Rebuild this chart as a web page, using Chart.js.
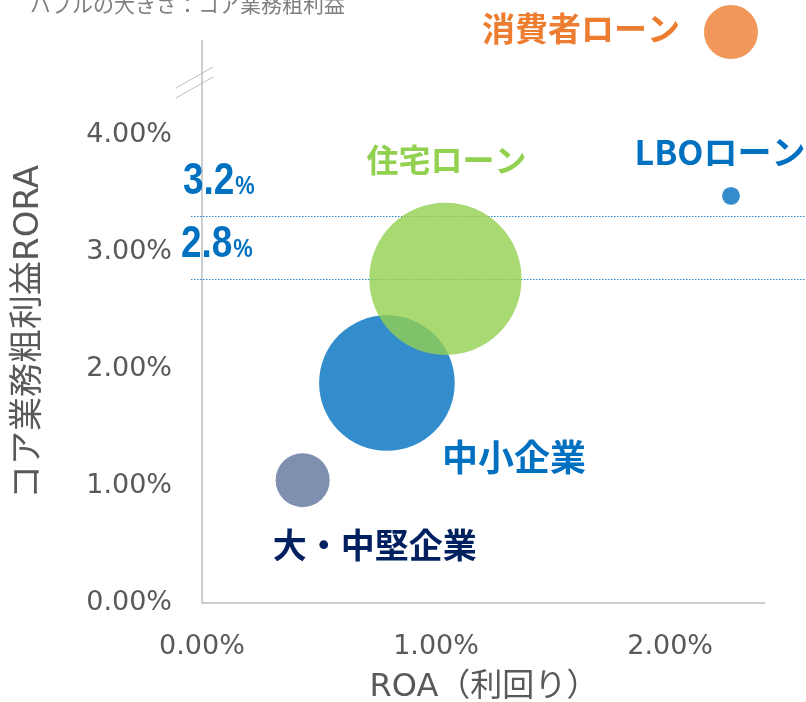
<!DOCTYPE html>
<html>
<head>
<meta charset="utf-8">
<script src="https://cdn.jsdelivr.net/npm/chart.js@4.4.1/dist/chart.umd.min.js"></script>
<style>
  html, body { margin: 0; padding: 0; background: #fff; }
  #wrap { width: 806px; height: 702px; }
</style>
</head>
<body>
<div id="wrap"><canvas id="chart" width="806" height="702"></canvas></div>
<script>
// data
const segments = ['大・中堅企業', '中小企業', '住宅ローン', 'LBOローン', '消費者ローン'];
const roa = [0.43, 0.79, 1.04, 2.26, 2.26];          // x, %
const rora = [1.05, 1.88, 2.77, 3.48, 4.88];         // y, % (消費者ローン sits above the axis break)
const grossProfit = [7.3, 46, 58, 0.8, 7.3];         // bubble size
const xTicks = [0, 1, 2];
const yTicks = [0, 1, 2, 3, 4];
const refValues = [3.31, 2.77];
const refLabels = ['3.2', '2.8'];

// styles
const fills = ['rgba(0,32,96,0.5)', 'rgba(0,112,192,0.8)', 'rgba(146,208,80,0.8)', 'rgba(0,112,192,0.8)', 'rgba(237,125,49,0.8)'];
const labelColors = ['#002060', '#0070C0', '#92D050', '#0070C0', '#ED7D31'];
const labelOffsets = [[72, 65], [127, 74], [1, -119], [-11, -44], [-150, -4]];
const labelSizes = [34, 36, 32, 34, 33];
const GRAY = '#595959';
const AXIS = '#BFBFBF';
const JP = '"Noto Sans CJK JP", sans-serif';
const TICK_FONT = '"DejaVu Sans", "Noto Sans CJK JP", sans-serif';

const points = roa.map((x, i) => ({ x: x, y: rora[i], r: Math.sqrt(grossProfit[i]) * 10 }));

function noPad(s) {
    s.paddingTop = 0;
    s.paddingBottom = 0;
    s.paddingLeft = 0;
    s.paddingRight = 0;
}

const decor = {
    id: 'decor',
    beforeDatasetsDraw(chart) {
        const ctx = chart.ctx;
        const x = chart.scales.x, y = chart.scales.y;
        const x0 = x.getPixelForValue(0), y0 = y.getPixelForValue(0);
        ctx.save();
        // axes
        ctx.strokeStyle = AXIS;
        ctx.lineWidth = 1.5;
        ctx.beginPath();
        ctx.moveTo(x0, 40);
        ctx.lineTo(x0, y0);
        ctx.lineTo(765, y0);
        ctx.stroke();
        // axis break marks
        ctx.lineWidth = 1;
        ctx.beginPath();
        ctx.moveTo(176, 88); ctx.lineTo(213, 67);
        ctx.moveTo(176, 98); ctx.lineTo(213, 77);
        ctx.stroke();
        // reference lines
        ctx.strokeStyle = '#2E86D0';
        ctx.lineWidth = 1;
        ctx.setLineDash([1.5, 1.5]);
        refValues.forEach(v => {
            const py = Math.round(y.getPixelForValue(v)) + 0.5;
            ctx.beginPath();
            ctx.moveTo(191, py);
            ctx.lineTo(806, py);
            ctx.stroke();
        });
        ctx.restore();
    },
    afterDatasetsDraw(chart) {
        const ctx = chart.ctx;
        const y = chart.scales.y;
        const meta = chart.getDatasetMeta(0);
        ctx.save();
        // bubble labels
        ctx.textAlign = 'center';
        ctx.textBaseline = 'middle';
        segments.forEach((name, i) => {
            const pt = meta.data[i];
            ctx.font = 'bold ' + labelSizes[i] + 'px ' + JP;
            ctx.fillStyle = labelColors[i];
            ctx.fillText(name, pt.x + labelOffsets[i][0], pt.y + labelOffsets[i][1]);
        });
        // reference line labels (narrow bold figures)
        ctx.textAlign = 'left';
        ctx.textBaseline = 'alphabetic';
        ctx.fillStyle = '#0070C0';
        refValues.forEach((v, i) => {
            const base = Math.round(y.getPixelForValue(v)) - 22;
            const left = 183 - i * 2;
            ctx.save();
            ctx.translate(left, base);
            ctx.scale(0.84, 1);
            ctx.font = 'bold 44px "Liberation Sans", Arial, sans-serif';
            const w = ctx.measureText(refLabels[i]).width;
            ctx.fillText(refLabels[i], 0, 0);
            ctx.font = 'bold 26px "Liberation Sans", Arial, sans-serif';
            ctx.fillText('%', w + 1, 0);
            ctx.restore();
        });
        // subtitle (cut at the top in the original)
        ctx.font = '21px ' + JP;
        ctx.fillStyle = '#7F7F7F';
        ctx.fillText('バブルの大きさ：コア業務粗利益', 30, 12);
        // x axis title
        ctx.fillStyle = GRAY;
        ctx.font = '32px ' + TICK_FONT;
        ctx.textAlign = 'center';
        ctx.fillText('ROA（利回り）', 484, 696);
        // y axis title
        ctx.translate(29, 332);
        ctx.rotate(-Math.PI / 2);
        ctx.textBaseline = 'middle';
        ctx.font = '34px ' + TICK_FONT;
        ctx.fillText('コア業務粗利益RORA', 0, 0);
        ctx.restore();
    }
};

new Chart(document.getElementById('chart'), {
    type: 'bubble',
    data: {
        datasets: [{
            data: points,
            backgroundColor: fills,
            borderWidth: 0,
            hoverBorderWidth: 0,
            clip: false
        }]
    },
    options: {
        responsive: false,
        devicePixelRatio: 1,
        animation: false,
        layout: { autoPadding: false, padding: { top: 0, right: 68, bottom: 0, left: 0 } },
        plugins: { legend: { display: false }, tooltip: { enabled: false } },
        events: [],
        scales: {
            x: {
                type: 'linear',
                min: 0,
                max: 2.29,
                grid: { display: false },
                border: { display: false },
                afterBuildTicks: s => { s.ticks = xTicks.map(v => ({ value: v })); },
                afterFit: s => { s.height = 99; noPad(s); },
                ticks: {
                    padding: 20,
                    color: GRAY,
                    font: { family: TICK_FONT, size: 27 },
                    callback: v => v.toFixed(2) + '%'
                }
            },
            y: {
                type: 'linear',
                min: 0,
                max: 5.154,
                grid: { display: false },
                border: { display: false },
                afterBuildTicks: s => { s.ticks = yTicks.map(v => ({ value: v })); },
                afterFit: s => { s.width = 202; noPad(s); },
                ticks: {
                    padding: 22,
                    color: GRAY,
                    font: { family: TICK_FONT, size: 27 },
                    callback: v => v.toFixed(2) + '%'
                }
            }
        }
    },
    plugins: [decor]
});
</script>
</body>
</html>
